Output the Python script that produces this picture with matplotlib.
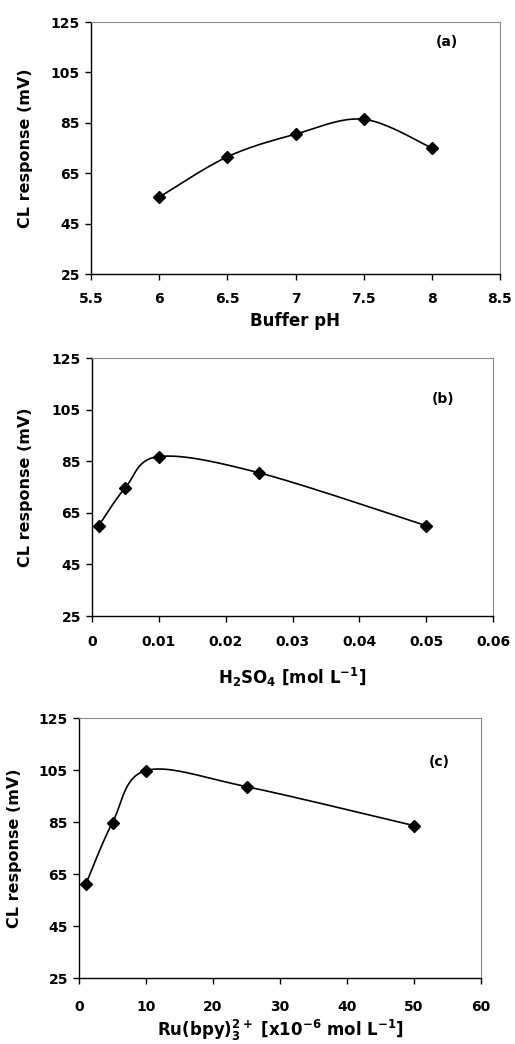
import numpy as np
import matplotlib
matplotlib.use("Agg")
import matplotlib.pyplot as plt

plt.rcParams['font.family'] = ['DejaVu Sans']
plt.rcParams['font.weight'] = 'bold'
plt.rcParams['mathtext.default'] = 'bf'

# Data
ph_x = [6, 6.5, 7, 7.5, 8]
ph_y = [55.5, 71.5, 80.5, 86.4, 75.0]

h2so4_x = [0.001, 0.005, 0.01, 0.025, 0.05]
h2so4_y = [60.0, 74.8, 86.8, 80.5, 60.0]

ru_x = [1, 5, 10, 25, 50]
ru_y = [61.0, 84.8, 104.8, 98.6, 83.6]

ylim = (25, 125)
yticks = [25, 45, 65, 85, 105, 125]

W, H = 515, 1044
fig = plt.figure(figsize=(W / 100, H / 100), dpi=100)


def ax_rect(l, t, r, b):
    return [l / W, 1 - b / H, (r - l) / W, (b - t) / H]


def smooth(ax, xs, ys, xlim):
    # Excel-like smoothed line: cubic Bezier through points, in axes space
    x = np.asarray(xs, float)
    y = np.asarray(ys, float)
    xn = (x - xlim[0]) / (xlim[1] - xlim[0])
    yn = (y - ylim[0]) / (ylim[1] - ylim[0]) * 0.63
    P = np.column_stack([xn, yn])
    n = len(P)
    out = []
    t = np.linspace(0, 1, 40)[:, None]
    for i in range(n - 1):
        p0 = P[i - 1] if i > 0 else P[i]
        p1 = P[i]
        p2 = P[i + 1]
        p3 = P[i + 2] if i + 2 < n else P[i + 1]
        c1 = p1 + (p2 - p0) / 6
        c2 = p2 - (p3 - p1) / 6
        seg = ((1 - t) ** 3) * p1 + 3 * ((1 - t) ** 2) * t * c1 + 3 * (1 - t) * t ** 2 * c2 + t ** 3 * p2
        out.append(seg)
    pts = np.vstack(out)
    sx = pts[:, 0] * (xlim[1] - xlim[0]) + xlim[0]
    sy = pts[:, 1] / 0.63 * (ylim[1] - ylim[0]) + ylim[0]
    ax.plot(sx, sy, color='black', lw=1.2, zorder=2)
    ax.plot(xs, ys, linestyle='none', marker='D', ms=6.5, color='black', zorder=3)


def style(ax, xlim, xticks, xticklabels, xlabel, tag, tagpos, ylabel_x, xlabel_pad, xpad):
    ax.set_xlim(*xlim)
    ax.set_ylim(*ylim)
    ax.set_yticks(yticks)
    ax.set_xticks(xticks)
    ax.set_xticklabels(xticklabels)
    for s in ['top', 'right']:
        ax.spines[s].set_color('#8a8a8a')
        ax.spines[s].set_linewidth(0.8)
    for s in ['left', 'bottom']:
        ax.spines[s].set_color('black')
        ax.spines[s].set_linewidth(1.0)
    ax.tick_params(direction='out', length=4, width=1, labelsize=10)
    ax.tick_params(axis='x', pad=xpad)
    ax.tick_params(axis='y', pad=4)
    ax.set_ylabel('CL response (mV)', fontsize=11.5, fontweight='bold')
    ax.yaxis.set_label_coords(ylabel_x, 0.5)
    ax.set_xlabel(xlabel, fontsize=12, fontweight='bold', labelpad=xlabel_pad)
    ax.text(tagpos[0], tagpos[1], tag, transform=ax.transAxes, fontsize=10,
            fontweight='bold', ha='center', va='center')


# (a)
ax1 = fig.add_axes(ax_rect(91, 22, 500, 274))
xl1 = (5.5, 8.5)
smooth(ax1, ph_x, ph_y, xl1)
style(ax1, xl1, [5.5, 6, 6.5, 7, 7.5, 8, 8.5],
      ['5.5', '6', '6.5', '7', '7.5', '8', '8.5'],
      'Buffer pH', '(a)', (0.87, 0.92), -0.142, 4, 9)

# (b)
ax2 = fig.add_axes(ax_rect(92, 358, 493, 616))
xl2 = (0, 0.06)
smooth(ax2, h2so4_x, h2so4_y, xl2)
style(ax2, xl2, [0, 0.01, 0.02, 0.03, 0.04, 0.05, 0.06],
      ['0', '0.01', '0.02', '0.03', '0.04', '0.05', '0.06'],
      r'H$_2$SO$_4$ [mol L$^{-1}$]', '(b)', (0.875, 0.84), -0.147, 12, 10)

# (c)
ax3 = fig.add_axes(ax_rect(79, 718, 481, 978))
xl3 = (0, 60)
smooth(ax3, ru_x, ru_y, xl3)
style(ax3, xl3, [0, 10, 20, 30, 40, 50, 60],
      ['0', '10', '20', '30', '40', '50', '60'],
      r'Ru(bpy)$_3^{2+}$ [x10$^{-6}$ mol L$^{-1}$]', '(c)', (0.895, 0.83), -0.142, 3, 12)

fig.savefig('out.png', dpi=100)
